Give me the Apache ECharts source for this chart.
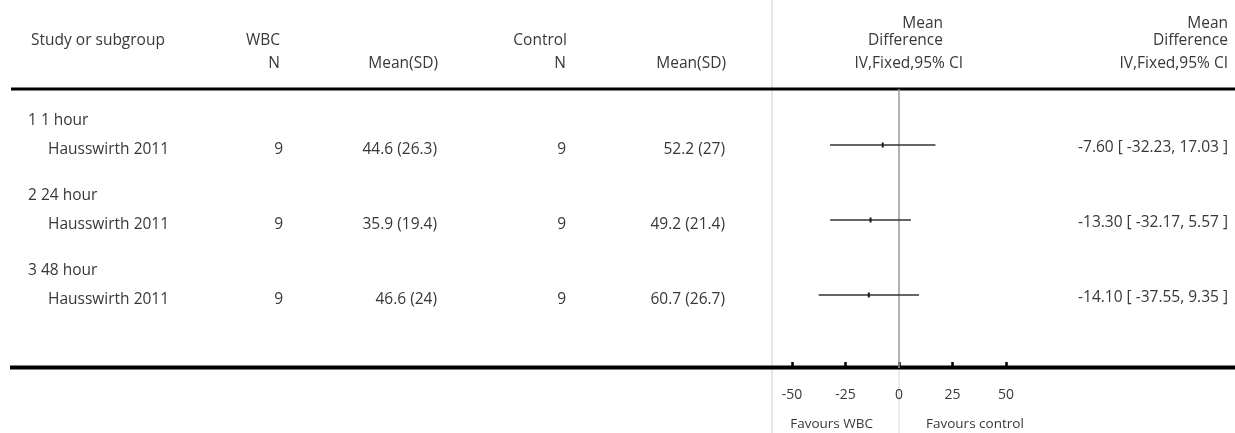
<!DOCTYPE html>
<html>
<head>
<meta charset="utf-8">
<script src="https://cdn.jsdelivr.net/npm/echarts@6/dist/echarts.min.js"></script>
<style>
  html, body { margin: 0; padding: 0; background: #ffffff; }
  #chart { width: 1235px; height: 433px; }
</style>
</head>
<body>
<div id="chart"></div>
<script>
// Forest plot: whole-body cryotherapy (WBC) versus control, by time point
const subgroups = ['1 1 hour', '2 24 hour', '3 48 hour'];
const studies = ['Hausswirth 2011', 'Hausswirth 2011', 'Hausswirth 2011'];
const wbcN = [9, 9, 9];
const wbcMean = [44.6, 35.9, 46.6];
const wbcSD = [26.3, 19.4, 24];
const ctrlN = [9, 9, 9];
const ctrlMean = [52.2, 49.2, 60.7];
const ctrlSD = [27, 21.4, 26.7];
const meanDiff = [-7.60, -13.30, -14.10];
const ciLow = [-32.23, -32.17, -37.55];
const ciHigh = [17.03, 5.57, 9.35];
const xTicks = [-50, -25, 0, 25, 50];
const favourLeft = 'Favours WBC';
const favourRight = 'Favours control';

const FONT = '"Open Sans", "Lato", sans-serif';
const TEXT = '#383838';

// Row index axis: one unit per subgroup block
const ROW_MIN = -0.7467;
const ROW_MAX = 2.9733;

const chart = echarts.init(document.getElementById('chart'), null, { renderer: 'canvas' });

const forestData = meanDiff.map((m, i) => [i, ciLow[i], ciHigh[i], m]);

chart.setOption({
  animation: false,
  backgroundColor: '#ffffff',
  grid: { left: 792, right: 229, top: 89, bottom: 65, containLabel: false },
  xAxis: {
    type: 'value',
    position: 'bottom',
    min: xTicks[0],
    max: xTicks[xTicks.length - 1],
    interval: 25,
    axisLine: { show: false, onZero: false },
    axisTick: { show: true, inside: true, length: 6, lineStyle: { color: '#000', width: 2.5 } },
    axisLabel: { margin: 20, fontFamily: FONT, fontSize: 14, color: TEXT },
    splitLine: { show: false }
  },
  yAxis: {
    type: 'value', inverse: true, min: ROW_MIN, max: ROW_MAX, show: false
  },
  series: [
    {
      type: 'line',
      data: [[0, ROW_MIN], [0, ROW_MAX]],
      symbol: 'none',
      lineStyle: { color: '#9a9a9a', width: 1.5 },
      z: 1, silent: true
    },
    {
      type: 'custom',
      data: forestData,
      encode: { x: [1, 2, 3], y: 0 },
      z: 2,
      renderItem: (params, api) => {
        const i = api.value(0);
        const lo = api.coord([api.value(1), i]);
        const hi = api.coord([api.value(2), i]);
        const mid = api.coord([api.value(3), i]);
        return {
          type: 'group',
          children: [
            { type: 'line', shape: { x1: lo[0], y1: lo[1], x2: hi[0], y2: hi[1] },
              style: { stroke: '#333333', lineWidth: 1.3 } },
            { type: 'rect', shape: { x: mid[0] - 1, y: mid[1] - 2.5, width: 2, height: 5 },
              style: { fill: '#1a1a1a' } }
          ]
        };
      }
    }
  ]
});

// Table text and rules around the plot
const zeroX = chart.convertToPixel({ gridIndex: 0 }, [0, 0])[0];
const rowY = i => chart.convertToPixel({ gridIndex: 0 }, [0, i])[1];

function txt(text, x, y, align, size) {
  return {
    type: 'text', silent: true,
    style: { text: text, x: x, y: y, align: align || 'left', verticalAlign: 'middle',
             font: (size || 15.5) + 'px ' + FONT, fill: TEXT }
  };
}
function rule(x1, y1, x2, y2, color, width) {
  return { type: 'line', silent: true, shape: { x1, y1, x2, y2 },
           style: { stroke: color, lineWidth: width } };
}

const g = [];
// column divider and horizontal rules
g.push(rule(772, 0, 772, 433, '#e6e6e6', 2));
g.push(rule(11, 89, 1235, 89, '#000', 3.2));
g.push(rule(10, 367.5, 1235, 367.5, '#000', 4));
g.push(rule(zeroX, 370, zeroX, 433, '#e3e3e3', 1.5));

// header
g.push(txt('Study or subgroup', 31, 41, 'left'));
g.push(txt('WBC', 280, 41, 'right'));
g.push(txt('N', 280, 64, 'right'));
g.push(txt('Mean(SD)', 438, 64, 'right'));
g.push(txt('Control', 567, 41, 'right'));
g.push(txt('N', 566, 64, 'right'));
g.push(txt('Mean(SD)', 726, 64, 'right'));
g.push(txt('Mean', 943, 24, 'right'));
g.push(txt('Difference', 943, 41, 'right'));
g.push(txt('IV,Fixed,95% CI', 963, 64, 'right'));
g.push(txt('Mean', 1228, 24, 'right'));
g.push(txt('Difference', 1228, 41, 'right'));
g.push(txt('IV,Fixed,95% CI', 1228, 64, 'right'));

// rows
studies.forEach((s, i) => {
  const y = rowY(i);
  g.push(txt(subgroups[i], 28, y - 24, 'left'));
  g.push(txt(s, 48, y + 5, 'left'));
  g.push(txt(String(wbcN[i]), 283, y + 5, 'right'));
  g.push(txt(wbcMean[i] + ' (' + wbcSD[i] + ')', 437, y + 5, 'right'));
  g.push(txt(String(ctrlN[i]), 566, y + 5, 'right'));
  g.push(txt(ctrlMean[i] + ' (' + ctrlSD[i] + ')', 725, y + 5, 'right'));
  g.push(txt(meanDiff[i].toFixed(2) + ' [ ' + ciLow[i].toFixed(2) + ', ' + ciHigh[i].toFixed(2) + ' ]',
             1228, y + 3, 'right'));
});

// direction labels under the axis
g.push(txt(favourLeft, zeroX - 26, 424, 'right', 13.5));
g.push(txt(favourRight, zeroX + 27, 424, 'left', 13.5));

chart.setOption({ graphic: { elements: g } });
</script>
</body>
</html>
